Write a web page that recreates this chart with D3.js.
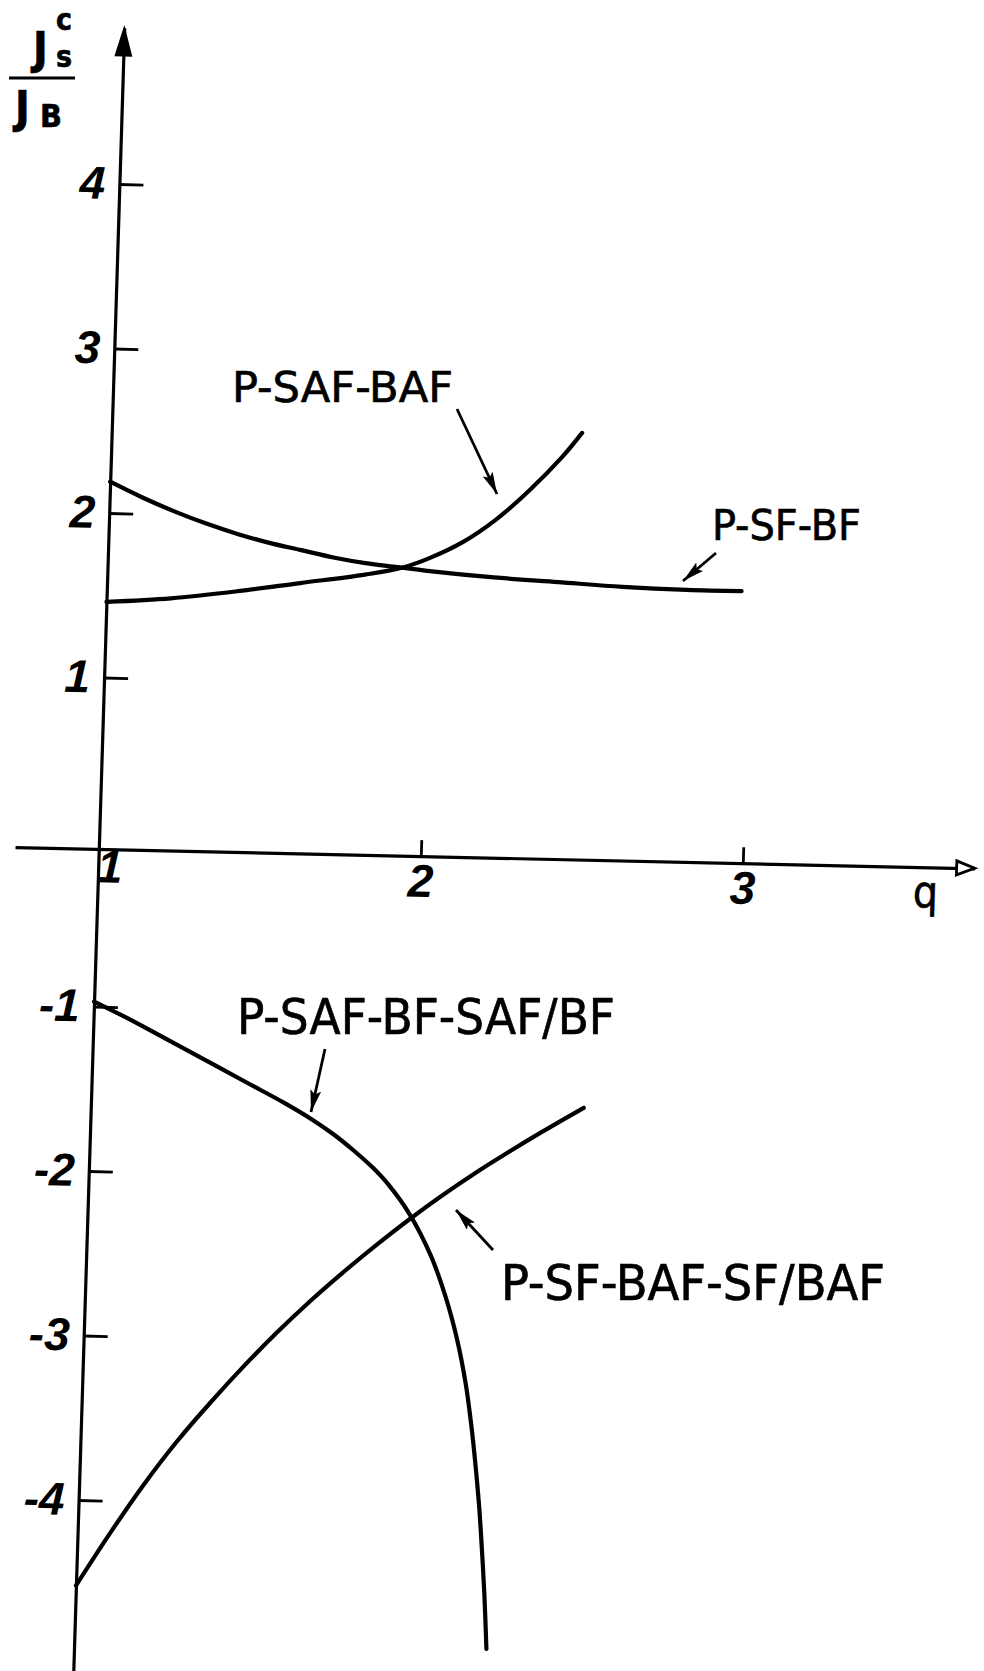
<!DOCTYPE html>
<html>
<head>
<meta charset="utf-8">
<script src="https://cdn.jsdelivr.net/npm/d3@7"></script>
<style>
  html, body { margin: 0; padding: 0; background: #fff; }
  svg { display: block; }
  .lbl { font-family: "DejaVu Sans Condensed", "DejaVu Sans", "Liberation Sans", sans-serif; fill: #000; stroke: #000; stroke-width: 0.6; }
  .tick text { font-family: "Liberation Sans", "DejaVu Sans", sans-serif; font-style: italic; font-weight: bold; fill: #000; }
</style>
</head>
<body>
<svg id="chart" width="984" height="1671"></svg>
<script>
// ---- data -------------------------------------------------------------
const qTicks = [1, 2, 3];
const vTicks = [4, 3, 2, 1, -1, -2, -3, -4];

const seriesNames = ["P-SF-BF", "P-SAF-BAF", "P-SAF-BF-SAF/BF", "P-SF-BAF-SF/BAF"];

const qSFBF = [1.0, 1.1, 1.2, 1.3, 1.4, 1.5, 1.6, 1.7, 1.8, 1.9, 2.0, 2.2, 2.4, 2.6, 2.8, 2.97];
const vSFBF = [2.19, 2.10, 2.02, 1.95, 1.89, 1.84, 1.80, 1.76, 1.73, 1.71, 1.69, 1.66, 1.64, 1.62, 1.61, 1.61];

const qSAFBAF = [1.0, 1.2, 1.4, 1.6, 1.8, 1.92, 2.0, 2.1, 2.2, 2.3, 2.4, 2.46];
const vSAFBAF = [1.46, 1.49, 1.54, 1.60, 1.66, 1.71, 1.77, 1.87, 2.01, 2.19, 2.40, 2.55];

const qSAFBF = [1.0, 1.12, 1.23, 1.36, 1.49, 1.60, 1.69, 1.76, 1.82, 1.88, 1.93, 2.0, 2.07, 2.12, 2.16, 2.19, 2.212, 2.23, 2.245, 2.257, 2.268, 2.28];
const vSAFBF = [-0.97, -1.08, -1.19, -1.32, -1.45, -1.56, -1.66, -1.75, -1.84, -1.94, -2.04, -2.22, -2.47, -2.72, -2.98, -3.24, -3.50, -3.76, -4.01, -4.26, -4.51, -4.85];

const qSFBAF = [1.0, 1.1, 1.2, 1.3, 1.4, 1.5, 1.6, 1.7, 1.8, 1.9, 2.0, 2.1, 2.2, 2.3, 2.4, 2.53];
const vSFBAF = [-4.52, -4.20, -3.90, -3.63, -3.39, -3.165, -2.955, -2.76, -2.58, -2.41, -2.25, -2.10, -1.96, -1.83, -1.705, -1.55];

// ---- geometry ---------------------------------------------------------
const origin = { x: 99, y: 842 };     // q = 1, J = 0
const unitQ = 322, unitV = 164.5;     // pixels per unit
const skewX = 0.022, skewY = -0.031;  // slight tilt of the hand-ruled axes
const qDomain = [0.74, 3.72];
const vDomain = [-5.1, 4.95];

const x = d3.scaleLinear().domain(qDomain).range(qDomain.map(q => (q - 1) * unitQ));
const y = d3.scaleLinear().domain(vDomain).range(vDomain.map(v => -v * unitV));

const svg = d3.select("#chart");
const plot = svg.append("g")
  .attr("transform", `matrix(1,${skewX},${skewY},1,${origin.x},${origin.y})`);

// ---- axes -------------------------------------------------------------
// the ruled q-axis sits a few pixels under the J = 0 level
const xAxis = plot.append("g")
  .attr("transform", "translate(0,7)")
  .call(d3.axisBottom(x).tickValues(qTicks).tickFormat(d3.format("d"))
    .tickSizeInner(-16).tickSizeOuter(0).tickPadding(8));
xAxis.selectAll(".tick").filter(d => d === 1).select("line").remove();
xAxis.selectAll(".tick").filter(d => d === 1).select("text").attr("dx", 11).attr("dy", "0.55em");

const yAxis = plot.append("g")
  .call(d3.axisLeft(y).tickValues(vTicks).tickFormat(d3.format("d"))
    .tickSizeInner(-24).tickSizeOuter(0).tickPadding(14));

[xAxis, yAxis].forEach(a => {
  a.select(".domain").attr("stroke", "#000").attr("stroke-width", 3.2);
  a.selectAll(".tick line").attr("stroke", "#000").attr("stroke-width", 2.8);
  a.selectAll(".tick text").attr("font-size", 46).attr("font-family", null);
});
yAxis.selectAll(".tick text").text(d => d < 0 ? "-" + Math.abs(d) : d);

// arrow heads of the axes
const xEnd = x(qDomain[1]);
xAxis.append("path")
  .attr("d", `M${xEnd - 18},-7 L${xEnd},0 L${xEnd - 18},7 Z`)
  .attr("fill", "#fff").attr("stroke", "#000").attr("stroke-width", 2.8)
  .attr("stroke-linejoin", "miter");
const yEnd = y(vDomain[1]);
plot.append("path")
  .attr("d", `M0,${yEnd} L8,${yEnd + 28} L-8,${yEnd + 28} Z`)
  .attr("fill", "#000").attr("stroke", "#000").attr("stroke-width", 1.5);

// axis name for q
xAxis.append("text").attr("class", "lbl")
  .attr("x", x(3.57)).attr("y", 40)
  .attr("text-anchor", "middle").attr("font-size", 44)
  .text("q");

// ---- curves -----------------------------------------------------------
const curves = [
  { name: seriesNames[0], q: qSFBF, v: vSFBF },
  { name: seriesNames[1], q: qSAFBAF, v: vSAFBAF },
  { name: seriesNames[2], q: qSAFBF, v: vSAFBF },
  { name: seriesNames[3], q: qSFBAF, v: vSFBAF }
];
const line = d3.line()
  .x(d => x(d[0])).y(d => y(d[1]))
  .curve(d3.curveCatmullRom.alpha(0.5));

plot.append("g").selectAll("path")
  .data(curves)
  .join("path")
  .attr("d", c => line(c.q.map((q, i) => [q, c.v[i]])))
  .attr("fill", "none").attr("stroke", "#000")
  .attr("stroke-width", 4.2).attr("stroke-linecap", "round").attr("stroke-linejoin", "round");

// ---- annotations ------------------------------------------------------
const defs = svg.append("defs");
defs.append("marker")
  .attr("id", "head").attr("viewBox", "0 0 22 11")
  .attr("refX", 22).attr("refY", 5.5)
  .attr("markerWidth", 22).attr("markerHeight", 11)
  .attr("markerUnits", "userSpaceOnUse").attr("orient", "auto")
  .append("path").attr("d", "M0,0 L22,5.5 L0,11 L4,5.5 Z").attr("fill", "#000");

const notes = [
  { text: seriesNames[1], x: 232, y: 402, w: 221, size: 42, from: [457, 409], to: [497, 494] },
  { text: seriesNames[0], x: 712, y: 540, w: 149, size: 42, from: [716, 553], to: [683, 581] },
  { text: seriesNames[2], x: 237, y: 1034, w: 378, size: 50, from: [325, 1049], to: [311, 1112] },
  { text: seriesNames[3], x: 501, y: 1300, w: 384, size: 49, from: [493, 1250], to: [456, 1210] }
];

const ann = svg.append("g");
notes.forEach(n => {
  ann.append("text").attr("class", "lbl")
    .attr("x", n.x).attr("y", n.y)
    .attr("font-size", n.size)
    .attr("textLength", n.w).attr("lengthAdjust", "spacingAndGlyphs")
    .text(n.text);
  ann.append("line")
    .attr("x1", n.from[0]).attr("y1", n.from[1])
    .attr("x2", n.to[0]).attr("y2", n.to[1])
    .attr("stroke", "#000").attr("stroke-width", 2.8)
    .attr("marker-end", "url(#head)");
});

// ---- y-axis title: J_s^c / J_B ----------------------------------------
const title = svg.append("g").attr("class", "lbl").attr("font-weight", "bold");
title.append("text").attr("x", 33).attr("y", 64).attr("font-size", 44).text("J");
title.append("text").attr("x", 56).attr("y", 67).attr("font-size", 30).text("s");
title.append("text").attr("x", 56).attr("y", 30).attr("font-size", 30).text("c");
title.append("line").attr("x1", 9).attr("x2", 75).attr("y1", 78).attr("y2", 78)
  .attr("stroke", "#000").attr("stroke-width", 3.2);
title.append("text").attr("x", 15).attr("y", 123).attr("font-size", 44).text("J");
title.append("text").attr("x", 40).attr("y", 127).attr("font-size", 32).text("B");
</script>
</body>
</html>
